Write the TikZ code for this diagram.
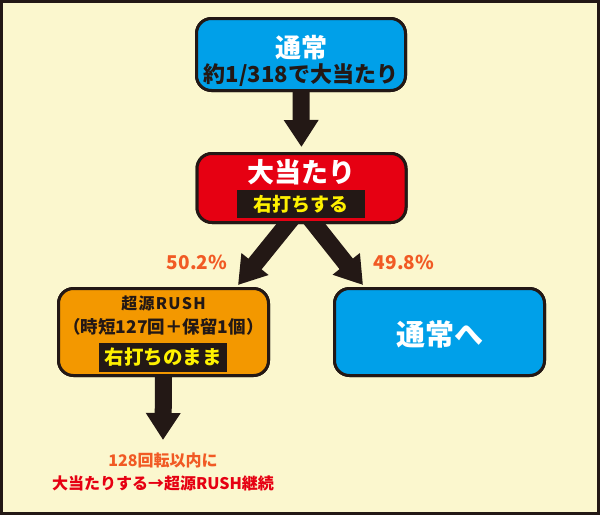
\documentclass[tikz,border=0pt]{standalone}
\usepackage{fontspec}
\setmainfont{Noto Sans CJK JP}
\usetikzlibrary{arrows.meta}
\definecolor{ink}{HTML}{231815}
\definecolor{bgc}{HTML}{FBF7CE}
\definecolor{bluec}{HTML}{00A0E9}
\definecolor{redc}{HTML}{E60012}
\definecolor{orangec}{HTML}{F39800}
\definecolor{pctc}{HTML}{F15A24}
\definecolor{yel}{HTML}{FFF100}
\begin{document}
\begin{tikzpicture}[x=1pt,y=-1pt,
  box/.style={draw=ink, line width=3pt, rounded corners=15pt, inner sep=0pt, minimum width=210pt},
  band/.style={fill=ink, inner sep=0pt, minimum width=128pt, minimum height=28pt, text=yel},
  txt/.style={inner sep=0pt, font=\bfseries},
  bigarrow/.style={draw=ink, line width=17pt, -{Triangle[width=33pt,length=27pt]}},
  pct/.style={inner sep=0pt, text=pctc, font=\bfseries\fontsize{19}{22}\selectfont}
]
\fill[bgc] (0,0) rectangle (600,515);
\draw[ink, line width=3pt] (1.5,1.5) rectangle (598.5,513.5);
\useasboundingbox (0,0) rectangle (600,515);

% connector end points
\coordinate (tipL) at (238,285);
\coordinate (tipR) at (363,285);
\coordinate (tipB) at (163,440);
\coordinate (startL) at (293,217);
\coordinate (startR) at (309,217);

% boxes (positions)
\path
  node[box, fill=bluec, minimum width=209pt, minimum height=72pt] (top) at (301,54.5) {}
  node[box, fill=redc, minimum width=209pt, minimum height=69pt] (hit) at (301.5,188) {}
  node[box, fill=orangec, minimum height=87pt] (rush) at (163.5,332) {}
  node[box, fill=bluec, minimum height=87pt] (normal) at (439.5,332) {};

% arrows
\draw[bigarrow, shorten >=5pt] (top.south) -- (hit.north);
\draw[bigarrow] (startL) -- (tipL);
\draw[bigarrow] (startR) -- (tipR);
\draw[bigarrow] (rush.south) -- (tipB);

% redraw boxes on top
\node[box, fill=bluec, minimum width=209pt, minimum height=72pt] (top2) at (top) {};
\node[box, fill=redc, minimum width=209pt, minimum height=69pt] (hit2) at (hit) {};
\node[box, fill=orangec, minimum height=87pt] (rush2) at (rush) {};
\node[box, fill=bluec, minimum height=87pt] (normal2) at (normal) {};

% texts
\node[txt, text=white, font=\bfseries\fontsize{26}{30}\selectfont] (t1) at (301,48) {通常};
\node[txt, text=ink, font=\bfseries\fontsize{22}{26}\selectfont] (t2) at (301,75) {約1/318で大当たり};

\node[txt, text=white, font=\bfseries\fontsize{27}{30}\selectfont] (h1) at (301.5,172) {大当たり};
\node[band, font=\bfseries\fontsize{19}{22}\selectfont] (h2) at (301,204) {右打ちする};

\node[txt, text=ink, font=\bfseries\fontsize{16}{19}\selectfont\addfontfeatures{LetterSpace=8}] (r1) at (163.5,303) {超源RUSH};
\node[txt, text=ink, font=\bfseries\fontsize{17.5}{20}\selectfont] (r2) at (163.5,327) {（時短127回＋保留1個）};
\node[band, minimum height=29pt, font=\bfseries\fontsize{19.5}{22}\selectfont] (r3) at (163,357.5) {右打ちのまま};

\node[txt, text=white, font=\bfseries\fontsize{29}{32}\selectfont] (n1) at (439.5,334) {通常へ};

\node[pct] (pL) at (197,262) {50.2\%};
\node[pct] (pR) at (404,262) {49.8\%};

\node[txt, text=pctc, font=\bfseries\fontsize{16}{19}\selectfont] (b1) at (163,460) {128回転以内に};
\node[txt, text=redc, font=\bfseries\fontsize{16}{19}\selectfont] (b2) at (163,483) {大当たりする→超源RUSH継続};
\end{tikzpicture}
\end{document}
